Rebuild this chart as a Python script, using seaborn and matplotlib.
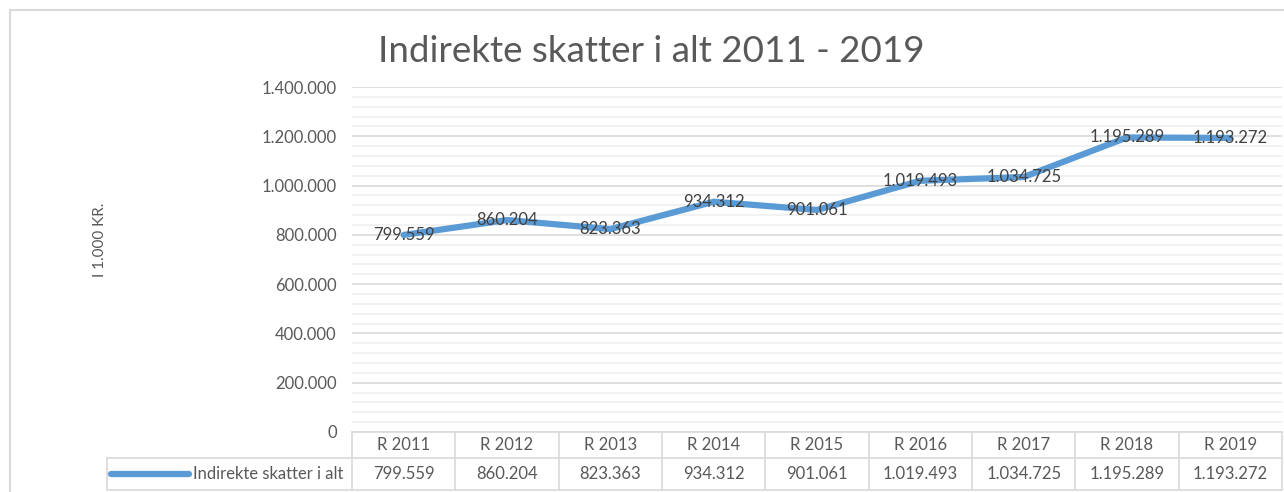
import numpy as np
import pandas as pd
import matplotlib
matplotlib.use("Agg")
import matplotlib.pyplot as plt
import matplotlib.ticker as mticker
from matplotlib.patches import Rectangle
import seaborn as sns

# data
aar = ["R 2011", "R 2012", "R 2013", "R 2014", "R 2015", "R 2016", "R 2017", "R 2018", "R 2019"]
indirekte = [799559, 860204, 823363, 934312, 901061, 1019493, 1034725, 1195289, 1193272]
serie_navn = "Indirekte skatter i alt"
titel = "Indirekte skatter i alt 2011 - 2019"
y_label = "I 1.000 KR."

df = pd.DataFrame({"Aar": aar, "Beloeb": indirekte})

sns.set_theme(style="white")
plt.rcParams["font.family"] = ["Lato", "DejaVu Sans"]

BLAA = "#5B9BD5"
GRAA_TXT = "#595959"
MOERK_TXT = "#404040"
GRID = "#d9d9d9"
GRID_MINOR = "#f0f0f0"

W, H = 1284, 492
fig = plt.figure(figsize=(W / 100, H / 100), dpi=100)
fig.patch.set_facecolor("white")

# plot area (pixel layout)
venstre, hoejre, top, bund = 352, 1282, 87, 432
ax = fig.add_axes([venstre / W, 1 - bund / H, (hoejre - venstre) / W, (bund - top) / H])

sns.lineplot(data=df, x="Aar", y="Beloeb", sort=False, color=BLAA, linewidth=4.5,
             solid_capstyle="round", ax=ax)

ax.set_xlim(-0.5, len(aar) - 0.5)
ax.set_ylim(0, 1400000)
ax.yaxis.set_major_locator(mticker.MultipleLocator(200000))
ax.yaxis.set_minor_locator(mticker.MultipleLocator(40000))
ax.yaxis.set_major_formatter(mticker.FuncFormatter(lambda v, p: f"{int(v):,}".replace(",", ".")))
ax.grid(axis="y", which="major", color=GRID, linewidth=1.2)
ax.grid(axis="y", which="minor", color=GRID_MINOR, linewidth=1.2)
ax.set_axisbelow(True)
ax.tick_params(axis="y", which="both", length=0, labelsize=12, labelcolor=GRAA_TXT, pad=11)
ax.tick_params(axis="x", length=0, labelbottom=False)
ax.set_xlabel("")
ax.set_ylabel("")
for s in ax.spines.values():
    s.set_visible(False)

# data labels centered on the points
for i, v in enumerate(indirekte):
    ax.text(i, v, f"{v:,}".replace(",", "."), ha="center", va="center",
            fontsize=12, color=MOERK_TXT)

# title and y label
fig.text(651 / W, 1 - 52 / H, titel, ha="center", va="center", fontsize=26.5,
         color=GRAA_TXT, fontweight="normal")
fig.text(100 / W, 1 - 240 / H, y_label, ha="center", va="center", rotation=90,
         fontsize=11, color=GRAA_TXT)

# data table below the plot
tab_v, tab_top, tab_mid, tab_bund = 107, 432, 458, 490
tab = fig.add_axes([tab_v / W, 1 - tab_bund / H, (hoejre - tab_v) / W, (tab_bund - tab_top) / H])
tab.set_xlim(tab_v, hoejre)
tab.set_ylim(tab_bund, tab_top)
tab.axis("off")

bredde = (hoejre - venstre) / len(aar)
kanter = [venstre + i * bredde for i in range(len(aar) + 1)]
lw_tab = 1.2
tab.plot([venstre, hoejre], [tab_top, tab_top], color=GRID, lw=lw_tab, clip_on=False)
tab.plot([tab_v, hoejre], [tab_mid, tab_mid], color=GRID, lw=lw_tab, clip_on=False)
tab.plot([tab_v, hoejre], [tab_bund, tab_bund], color=GRID, lw=lw_tab, clip_on=False)
tab.plot([tab_v, tab_v], [tab_mid, tab_bund], color=GRID, lw=lw_tab, clip_on=False)
for k in kanter:
    tab.plot([k, k], [tab_top, tab_bund], color=GRID, lw=lw_tab, clip_on=False)

for i, (lab, v) in enumerate(zip(aar, indirekte)):
    cx = (kanter[i] + kanter[i + 1]) / 2
    tab.text(cx, (tab_top + tab_mid) / 2, lab, ha="center", va="center",
             fontsize=12, color=GRAA_TXT)
    tab.text(cx, (tab_mid + tab_bund) / 2, f"{v:,}".replace(",", "."), ha="center",
             va="center", fontsize=12, color=GRAA_TXT)

# legend key in the table
ky = (tab_mid + tab_bund) / 2
tab.plot([tab_v + 4, tab_v + 82], [ky, ky], color=BLAA, lw=4.5, solid_capstyle="round")
tab.text(tab_v + 86, ky, serie_navn, ha="left", va="center", fontsize=12, color=GRAA_TXT)

# outer chart border
fig.add_artist(Rectangle((10 / W, -0.1), 1.2, 1.1 - 10 / H, transform=fig.transFigure,
                         fill=False, edgecolor=GRID, linewidth=1.5))

fig.savefig("out.png", dpi=100, facecolor="white")
